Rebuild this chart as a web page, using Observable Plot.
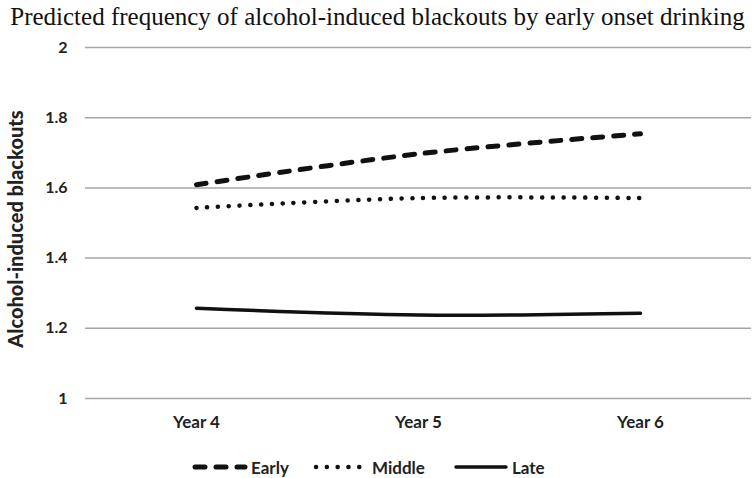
<!DOCTYPE html>
<html>
<head>
<meta charset="utf-8">
<script src="https://cdn.jsdelivr.net/npm/d3@7"></script>
<script src="https://cdn.jsdelivr.net/npm/@observablehq/plot@0.6"></script>
<style>
  body { margin: 0; background: #fff; width: 755px; height: 478px; overflow: hidden; position: relative; }
  #title { position: absolute; left: 0; top: 0; width: 755px; height: 34px; text-align: center; white-space: nowrap;
    font-family: "Liberation Serif", "Times New Roman", serif; font-size: 25px; line-height: 34px; color: #111; }
  #chart { position: absolute; left: 0; top: 36px; }
  #ylabel { position: absolute; left: 15px; top: 229px; white-space: nowrap;
    transform: translate(-50%, -50%) rotate(-90deg);
    font-family: Lato, "Open Sans", sans-serif; font-weight: 900; font-size: 20px; color: #222; }
  #legend { position: absolute; left: 0; top: 454px; width: 755px; height: 26px; }
  .item { position: absolute; top: 0; display: flex; align-items: center; height: 26px;
    font-family: Lato, "Open Sans", sans-serif; font-weight: bold; font-size: 17px; color: #222; }
  .item svg { margin-right: 3px; }
</style>
</head>
<body>
<div id="title">Predicted frequency of alcohol-induced blackouts by early onset drinking</div>
<div id="chart"></div>
<div id="ylabel"></div>
<div id="legend"></div>
<script>
const years = ["Year 4", "Year 5", "Year 6"];
const seriesNames = ["Early", "Middle", "Late"];
const early = [1.609, 1.697, 1.754];
const middle = [1.543, 1.571, 1.571];
const late = [1.257, 1.238, 1.243];
const yTicks = [1, 1.2, 1.4, 1.6, 1.8, 2];
const yLabel = "Alcohol-induced blackouts";

const styles = {
  Early: {strokeWidth: 5, dash: "10 11", cap: "round"},
  Middle: {strokeWidth: 4.5, dash: "0.1 10.7", cap: "round"},
  Late: {strokeWidth: 3.5, dash: null, cap: "round"}
};

const valuesBySeries = {Early: early, Middle: middle, Late: late};
const data = seriesNames.flatMap(s => years.map((y, i) => ({series: s, year: y, value: valuesBySeries[s][i]})));

const fontFam = "Lato, 'Open Sans', sans-serif";
document.getElementById("ylabel").textContent = yLabel;

const plot = Plot.plot({
  width: 755,
  height: 410,
  marginLeft: 85,
  marginRight: 4,
  marginTop: 11,
  marginBottom: 48,
  style: {fontFamily: fontFam, fontSize: "16px", fontWeight: "bold", color: "#222", background: "transparent"},
  x: {type: "point", domain: years, padding: 0.5, label: null},
  y: {domain: [1, 2], label: null},
  marks: [
    Plot.ruleY(yTicks, {stroke: "#a6a6a6", strokeWidth: 1.5}),
    Plot.axisY({ticks: yTicks, tickSize: 0, tickPadding: 18, tickFormat: d => String(d), fontSize: 16, fontWeight: "bold", label: null}),
    Plot.axisX({tickSize: 0, tickPadding: 17, fontSize: 17, fontWeight: "bold", label: null}),
    ...seriesNames.map(s => Plot.line(data.filter(d => d.series === s), {
      x: "year", y: "value", curve: "catmull-rom",
      stroke: "#111", strokeWidth: styles[s].strokeWidth,
      strokeDasharray: styles[s].dash || undefined,
      strokeLinecap: styles[s].cap
    }))
  ]
});
document.getElementById("chart").appendChild(plot);

// legend
const legendPos = {Early: 192, Middle: 313, Late: 453};
const legend = document.getElementById("legend");
for (const s of seriesNames) {
  const st = styles[s];
  const div = document.createElement("div");
  div.className = "item";
  div.style.left = legendPos[s] + "px";
  div.innerHTML = `<svg width="56" height="10"><line x1="3" x2="53" y1="5" y2="5" stroke="#111" stroke-width="${st.strokeWidth}" ${st.dash ? `stroke-dasharray="${st.dash}"` : ""} stroke-linecap="${st.cap}"/></svg><span>${s}</span>`;
  legend.appendChild(div);
}
</script>
</body>
</html>
